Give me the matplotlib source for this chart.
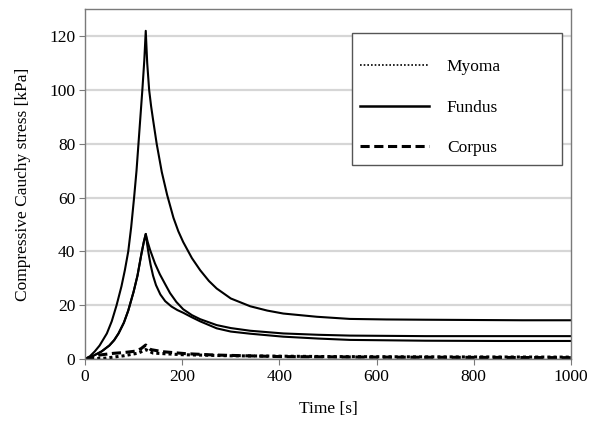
import matplotlib
matplotlib.use("Agg")
import matplotlib.pyplot as plt
from matplotlib.patches import Rectangle

plt.rcParams['font.family'] = ['Liberation Serif', 'DejaVu Serif']

# Fundus (solid) - high curve
t_f1 = [0, 10, 20, 30, 45, 55, 65, 75, 82, 89, 95, 101, 106, 110, 114, 118, 122, 125,
        128, 132, 136, 140, 147.5, 158, 169, 182, 192, 202, 220, 237, 255, 271, 300,
        340, 375, 408, 477, 545, 620, 700, 800, 900, 1000]
v_f1 = [0, 1.0, 2.8, 5.0, 9.5, 14, 20, 27, 33, 40, 49, 60, 70, 80, 90, 100, 111, 122,
        110, 100, 94, 89, 80, 69.5, 61, 52.5, 47.5, 43.5, 37.5, 33, 29, 26.2, 22.5,
        19.6, 18, 16.9, 15.7, 14.9, 14.7, 14.6, 14.5, 14.4, 14.4]

# Fundus - two middle curves
t_f2 = [0, 15, 34, 50, 60, 69, 80, 89, 100, 108, 116, 121, 125, 129, 134, 144, 154,
        165, 175, 188, 202, 220, 237, 271, 300, 340, 408, 480, 545, 700, 850, 1000]
v_f2 = [0, 1.0, 2.8, 5, 7, 9.5, 13.5, 18, 25, 31, 39, 43.5, 46.5, 43.5, 40.5, 35.5,
        31.5, 27.8, 24.5, 21.2, 18.5, 16.3, 14.8, 12.6, 11.5, 10.5, 9.5, 9.0, 8.7,
        8.5, 8.5, 8.5]
t_f3 = [0, 15, 34, 50, 60, 69, 80, 89, 100, 108, 116, 121, 125, 128, 131, 135, 140,
        146, 155, 165, 178, 190, 202, 220, 237, 271, 300, 340, 408, 480, 545, 700,
        850, 1000]
v_f3 = [0, 1.0, 2.8, 5, 7, 9.5, 13.5, 18, 25, 31, 39, 43.5, 46.5, 42.5, 39, 35,
        31, 27.5, 24, 21.5, 19.5, 18.2, 17.2, 15.5, 14, 11.4, 10.2, 9.4, 8.3, 7.6,
        7.1, 6.8, 6.7, 6.7]

# Corpus (dashed)
t_c = [0, 31, 58, 80, 103, 115, 125, 135, 161, 206, 264, 330, 401, 500, 600, 800, 1000]
v_c = [0, 1.5, 2.1, 2.4, 2.9, 3.8, 5.2, 3.5, 2.7, 2.0, 1.5, 1.2, 0.9, 0.8, 0.7, 0.6, 0.5]

# Myoma (dotted)
t_m = [0, 41, 80, 110, 125, 140, 200, 300, 500, 700, 1000]
v_m = [0, 0.3, 1.2, 2.2, 3.5, 2.2, 1.6, 1.2, 0.9, 0.8, 0.7]

legend_labels = ['Myoma', 'Fundus', 'Corpus']

fig = plt.figure(figsize=(5.89, 4.25), dpi=100)
ax = fig.add_axes([85/589, 1-359/425, 486/589, 349.7/425])

ax.set_xlim(0, 1000)
ax.set_ylim(0, 130)
ax.set_xticks(range(0, 1001, 200))
ax.set_yticks(range(0, 121, 20))
ax.yaxis.grid(True, color='#d6d6d6', linewidth=1.6)
ax.set_axisbelow(True)

ax.plot(t_f1, v_f1, color='black', lw=1.5)
ax.plot(t_f2, v_f2, color='black', lw=1.5)
ax.plot(t_f3, v_f3, color='black', lw=1.5)
ax.plot(t_c, v_c, color='black', lw=2.2, ls=(0, (3, 1.5)))
ax.plot(t_m, v_m, color='black', lw=2.2, ls=(0, (1, 1)))

for s in ax.spines.values():
    s.set_color('#7a7a7a')
    s.set_linewidth(1.0)
ax.tick_params(axis='both', direction='out', length=4, color='#7a7a7a',
               labelsize=12.5, pad=3)

ax.set_xlabel('Time [s]', fontsize=12.5, labelpad=12)
ax.set_ylabel('Compressive Cauchy stress [kPa]', fontsize=12.5, labelpad=13)

# legend
h1, = ax.plot([], [], color='black', lw=1.2, ls=(0, (1, 1.2)))
h2, = ax.plot([], [], color='black', lw=1.8)
h3, = ax.plot([], [], color='black', lw=2.2, ls=(0, (3, 1.5)))
leg = ax.legend([h1, h2, h3], legend_labels, loc='upper left',
                bbox_to_anchor=((360-85)/486, (359-59)/349.7), frameon=False,
                fontsize=12.5, handlelength=4.0, handletextpad=1.0,
                labelspacing=1.4, borderpad=0, borderaxespad=0)
ax.add_patch(Rectangle(((352-85)/486, (359-165)/349.7), 210/486, 132/349.7,
                       transform=ax.transAxes, fill=True, facecolor='white',
                       edgecolor='#555555', lw=1.0, zorder=4))
leg.set_zorder(5)

fig.savefig('out.png', dpi=100)
